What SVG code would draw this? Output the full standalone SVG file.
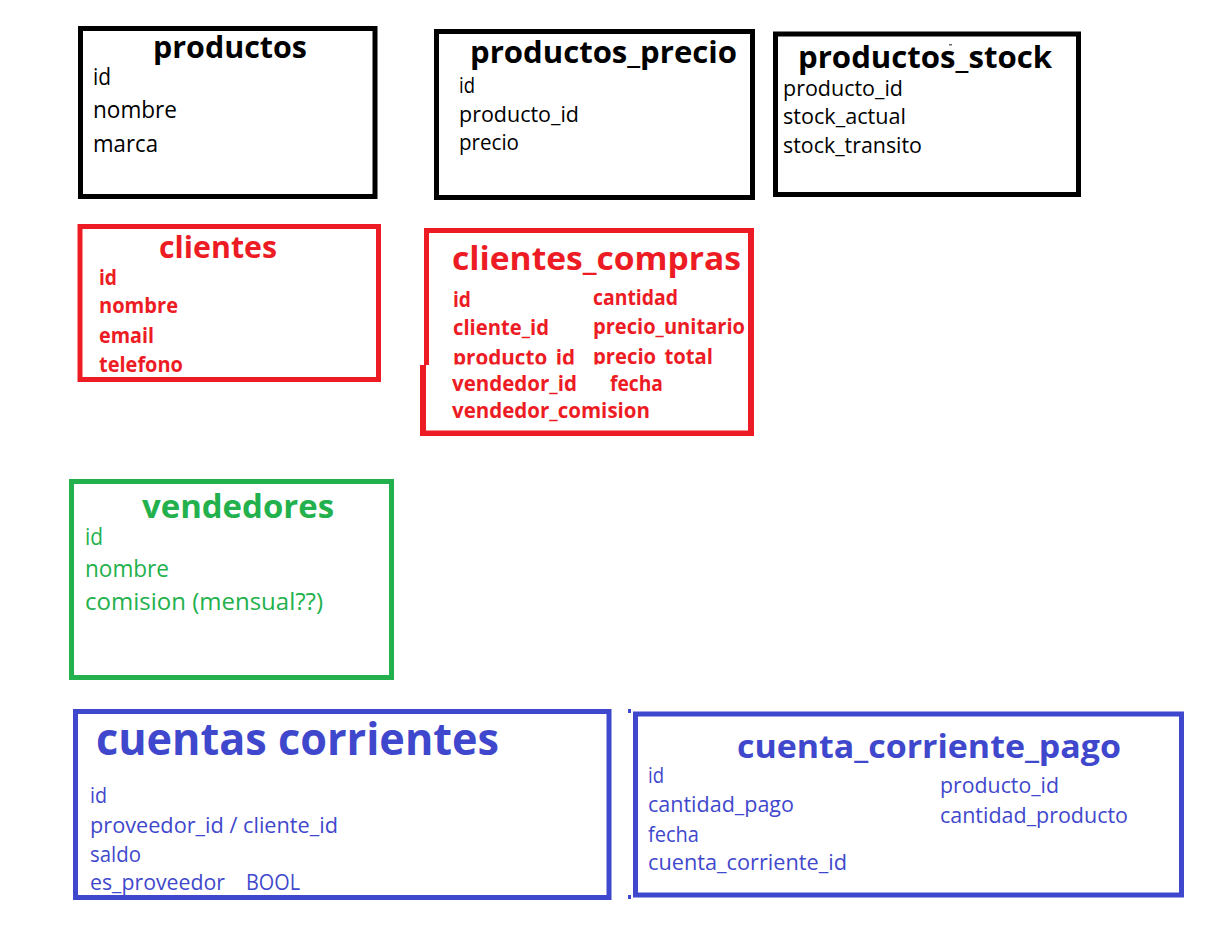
<svg xmlns="http://www.w3.org/2000/svg" width="1210" height="940" viewBox="0 0 1210 940">
<style>
text{font-family:"Open Sans","Noto Sans","Liberation Sans",sans-serif}
.t{font-weight:bold}
.f{font-size:21px}
.fb{font-size:21px;font-weight:bold}
.blk{fill:#000}
.red{fill:#ED1C24}
.grn{fill:#22B14C}
.blu{fill:#3F48CC}
.box{fill:none;stroke-width:5}
</style>
<defs>
<clipPath id="cc-clip"><rect x="0" y="0" width="1210" height="364.5"/></clipPath>
</defs>
<rect x="0" y="0" width="1210" height="940" fill="#fff"/>

<g id="productos">
<text class="t blk" x="153" y="58" font-size="31" textLength="154" lengthAdjust="spacingAndGlyphs">productos</text>
<g class="blk" font-size="23">
<text x="93" y="85" textLength="18" lengthAdjust="spacingAndGlyphs">id</text>
<text x="93" y="118" textLength="84" lengthAdjust="spacingAndGlyphs">nombre</text>
<text x="93" y="152" textLength="65" lengthAdjust="spacingAndGlyphs">marca</text>
</g>
<rect class="box" x="80.5" y="28.5" width="294.5" height="168" stroke="#000"/>
</g>

<g id="productos_precio">
<text class="t blk" x="470" y="63" font-size="31" textLength="267" lengthAdjust="spacingAndGlyphs">productos_precio</text>
<g class="blk f">
<text x="459" y="93" textLength="16" lengthAdjust="spacingAndGlyphs">id</text>
<text x="459" y="122" textLength="120" lengthAdjust="spacingAndGlyphs">producto_id</text>
<text x="459" y="150" textLength="60" lengthAdjust="spacingAndGlyphs">precio</text>
</g>
<rect class="box" x="436.5" y="31.5" width="316" height="166" stroke="#000"/>
</g>

<g id="productos_stock">
<text class="t blk" x="798" y="68" font-size="31" textLength="254" lengthAdjust="spacingAndGlyphs">productos_stock</text>
<rect x="949" y="44" width="3" height="1.5" fill="#666"/>
<g class="blk f">
<text x="783" y="96" textLength="120" lengthAdjust="spacingAndGlyphs">producto_id</text>
<text x="783" y="124" textLength="123" lengthAdjust="spacingAndGlyphs">stock_actual</text>
<text x="783" y="153" textLength="139" lengthAdjust="spacingAndGlyphs">stock_transito</text>
</g>
<rect class="box" x="775.5" y="34" width="303" height="160.5" stroke="#000"/>
</g>

<g id="clientes">
<text class="t red" x="159" y="258" font-size="30" textLength="118" lengthAdjust="spacingAndGlyphs">clientes</text>
<g class="red fb">
<text x="99" y="285" textLength="18" lengthAdjust="spacingAndGlyphs">id</text>
<text x="99" y="313" textLength="79" lengthAdjust="spacingAndGlyphs">nombre</text>
<text x="99" y="343" textLength="55" lengthAdjust="spacingAndGlyphs">email</text>
<text x="99" y="372" textLength="84" lengthAdjust="spacingAndGlyphs">telefono</text>
</g>
<rect class="box" x="80" y="226.5" width="298.5" height="153" stroke="#ED1C24"/>
</g>

<g id="clientes_compras">
<text class="t red" x="452" y="270" font-size="33" textLength="289" lengthAdjust="spacingAndGlyphs">clientes_compras</text>
<g class="red fb">
<text x="453" y="307" textLength="18" lengthAdjust="spacingAndGlyphs">id</text>
<text x="453" y="335" textLength="96" lengthAdjust="spacingAndGlyphs">cliente_id</text>
<text x="453" y="365" textLength="122" lengthAdjust="spacingAndGlyphs" clip-path="url(#cc-clip)">producto_id</text>
<text x="593" y="305" textLength="85" lengthAdjust="spacingAndGlyphs">cantidad</text>
<text x="593" y="334" textLength="152" lengthAdjust="spacingAndGlyphs">precio_unitario</text>
<text x="593" y="363.5" textLength="120" lengthAdjust="spacingAndGlyphs" clip-path="url(#cc-clip)">precio_total</text>
<text x="452" y="391" textLength="125" lengthAdjust="spacingAndGlyphs">vendedor_id</text>
<text x="610" y="391" textLength="53" lengthAdjust="spacingAndGlyphs">fecha</text>
<text x="452" y="418" textLength="198" lengthAdjust="spacingAndGlyphs">vendedor_comision</text>
</g>
<g fill="#ED1C24">
<rect x="424" y="228" width="330" height="5"/>
<rect x="748" y="228" width="6" height="208"/>
<rect x="420" y="430.5" width="334" height="5.5"/>
<rect x="424" y="228" width="5" height="137"/>
<rect x="420" y="365" width="6" height="71"/>
</g>
</g>

<g id="vendedores">
<text class="t grn" x="142" y="518" font-size="32" textLength="192" lengthAdjust="spacingAndGlyphs">vendedores</text>
<g class="grn" font-size="24">
<text x="85" y="545" textLength="18" lengthAdjust="spacingAndGlyphs">id</text>
<text x="85" y="577" textLength="84" lengthAdjust="spacingAndGlyphs">nombre</text>
<text x="85" y="610" textLength="238" lengthAdjust="spacingAndGlyphs">comision (mensual??)</text>
</g>
<rect class="box" x="71.5" y="481.5" width="320" height="196" stroke="#22B14C"/>
</g>

<g id="cuentas_corrientes">
<text class="t blu" x="96" y="755" font-size="45" textLength="403" lengthAdjust="spacingAndGlyphs">cuentas corrientes</text>
<g class="blu f">
<text x="90" y="803" textLength="17" lengthAdjust="spacingAndGlyphs">id</text>
<text x="90" y="833" textLength="248" lengthAdjust="spacingAndGlyphs">proveedor_id / cliente_id</text>
<text x="90" y="862" textLength="51" lengthAdjust="spacingAndGlyphs">saldo</text>
<text x="90" y="890" textLength="135" lengthAdjust="spacingAndGlyphs">es_proveedor</text>
<text x="246" y="890" textLength="54" lengthAdjust="spacingAndGlyphs">BOOL</text>
</g>
<rect class="box" x="75.5" y="711.5" width="533.5" height="186" stroke="#3F48CC"/>
</g>

<g id="cuenta_corriente_pago">
<text class="t blu" x="737" y="758" font-size="33" textLength="384" lengthAdjust="spacingAndGlyphs">cuenta_corriente_pago</text>
<g class="blu f">
<text x="648" y="783" textLength="16" lengthAdjust="spacingAndGlyphs">id</text>
<text x="648" y="812" textLength="146" lengthAdjust="spacingAndGlyphs">cantidad_pago</text>
<text x="648" y="842" textLength="51" lengthAdjust="spacingAndGlyphs">fecha</text>
<text x="648" y="870" textLength="199" lengthAdjust="spacingAndGlyphs">cuenta_corriente_id</text>
<text x="940" y="793" textLength="119" lengthAdjust="spacingAndGlyphs">producto_id</text>
<text x="940" y="823" textLength="188" lengthAdjust="spacingAndGlyphs">cantidad_producto</text>
</g>
<rect class="box" x="635.5" y="714" width="546" height="181" stroke="#3F48CC"/>
<rect x="628" y="709" width="3" height="4" fill="#3F48CC"/>
<rect x="628" y="895" width="3" height="4" fill="#3F48CC"/>
</g>

<g id="connectors"/>
</svg>
